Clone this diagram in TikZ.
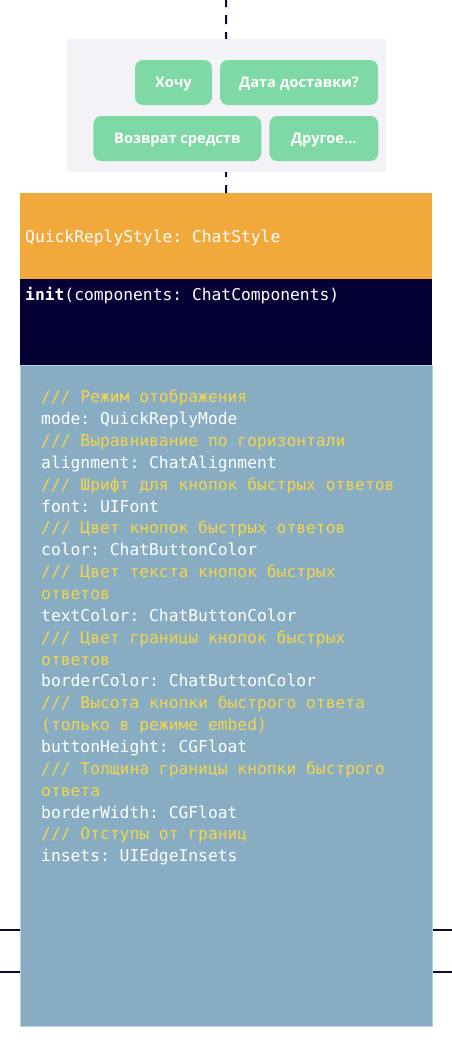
\documentclass[tikz,border=0pt]{standalone}
\usepackage{fontspec}
\setmonofont{DejaVu Sans Mono}
\newfontfamily\btnfont{Open Sans}
\usetikzlibrary{positioning}

\definecolor{panelgray}{RGB}{242,242,247}
\definecolor{btngreen}{RGB}{127,217,166}
\definecolor{hdrorange}{RGB}{242,169,59}
\definecolor{initnavy}{RGB}{5,0,51}
\definecolor{bodyblue}{RGB}{136,173,194}
\definecolor{cmtyellow}{RGB}{245,213,76}
\definecolor{linknavy}{RGB}{12,10,50}

\begin{document}
\begin{tikzpicture}[x=1pt,y=-1pt]
  \tikzset{panel/.style={rectangle, fill=panelgray, inner sep=0pt, anchor=north west}}
  \tikzset{reply/.style={rectangle, rounded corners=8pt, fill=btngreen, text=white,
    font=\btnfont\bfseries\fontsize{14.6}{16}\selectfont, text height=10.4pt, text depth=0pt,
    minimum height=45pt, inner sep=0pt}}
  \tikzset{block/.style={rectangle, inner sep=0pt, anchor=north west, minimum width=412pt}}
  \tikzset{code/.style={anchor=base west, inner sep=0pt, text=white,
    font=\ttfamily\fontsize{16.3}{20}\selectfont}}
  \tikzset{comment/.style={code, text=cmtyellow}}
  \tikzset{link/.style={draw=linknavy, line width=2pt}}

  \useasboundingbox (0,0) rectangle (452,1042);

  \coordinate (top) at (226,0);
  \coordinate (l1) at (0,930);
  \coordinate (r1) at (452,930);
  \coordinate (l2) at (0,971.5);
  \coordinate (r2) at (452,971.5);

  \node[block, fill=hdrorange, minimum height=86pt] (style) at (20,193) {};
  \draw[link, dash pattern=on 9pt off 8pt, dash phase=2pt] (top) -- (style.north);
  \draw[link] (l1) -- (r1);
  \draw[link] (l2) -- (r2);

  \node[panel, minimum width=319pt, minimum height=133pt] (quick) at (67,39) {};
  \node[reply, minimum width=77pt] (want) at (173.5,82.5) {Хочу};
  \node[reply, minimum width=158pt] (date) at (299,82.5) {Дата доставки?};
  \node[reply, minimum width=168pt] (refund) at (177.3,138.5) {Возврат средств};
  \node[reply, minimum width=109pt] (other) at (323.8,138.5) {Другое...};

  \node[block, fill=initnavy, minimum height=86pt] (init) at (20,279) {};
  \node[block, fill=bodyblue, draw=bodyblue!60!white, line width=0.6pt, minimum height=661pt] (props) at (20,365) {};

  \node[code] (stylename) at (25,242.7) {QuickReplyStyle: ChatStyle};
  \node[code] (initsig) at (25,300.7) {\textbf{init}(components: ChatComponents)};

  \node[comment] (c1) at (41,402.7) {/// Режим отображения};
  \node[code] (p1) at (41,424.6) {mode: QuickReplyMode};
  \node[comment] (c2) at (41,446.4) {/// Выравнивание по горизонтали};
  \node[code] (p2) at (41,468.3) {alignment: ChatAlignment};
  \node[comment] (c3) at (41,490.1) {/// Шрифт для кнопок быстрых ответов};
  \node[code] (p3) at (41,512.0) {font: UIFont};
  \node[comment] (c4) at (41,533.9) {/// Цвет кнопок быстрых ответов};
  \node[code] (p4) at (41,555.7) {color: ChatButtonColor};
  \node[comment] (c5) at (41,577.6) {/// Цвет текста кнопок быстрых};
  \node[comment] (c5b) at (41,599.4) {ответов};
  \node[code] (p5) at (41,621.3) {textColor: ChatButtonColor};
  \node[comment] (c6) at (41,643.2) {/// Цвет границы кнопок быстрых};
  \node[comment] (c6b) at (41,665.0) {ответов};
  \node[code] (p6) at (41,686.9) {borderColor: ChatButtonColor};
  \node[comment] (c7) at (41,708.7) {/// Высота кнопки быстрого ответа};
  \node[comment] (c7b) at (41,730.6) {(только в режиме embed)};
  \node[code] (p7) at (41,752.5) {buttonHeight: CGFloat};
  \node[comment] (c8) at (41,774.3) {/// Толщина границы кнопки быстрого};
  \node[comment] (c8b) at (41,796.2) {ответа};
  \node[code] (p8) at (41,818.0) {borderWidth: CGFloat};
  \node[comment] (c9) at (41,839.9) {/// Отступы от границ};
  \node[code] (p9) at (41,861.8) {insets: UIEdgeInsets};
\end{tikzpicture}
\end{document}
